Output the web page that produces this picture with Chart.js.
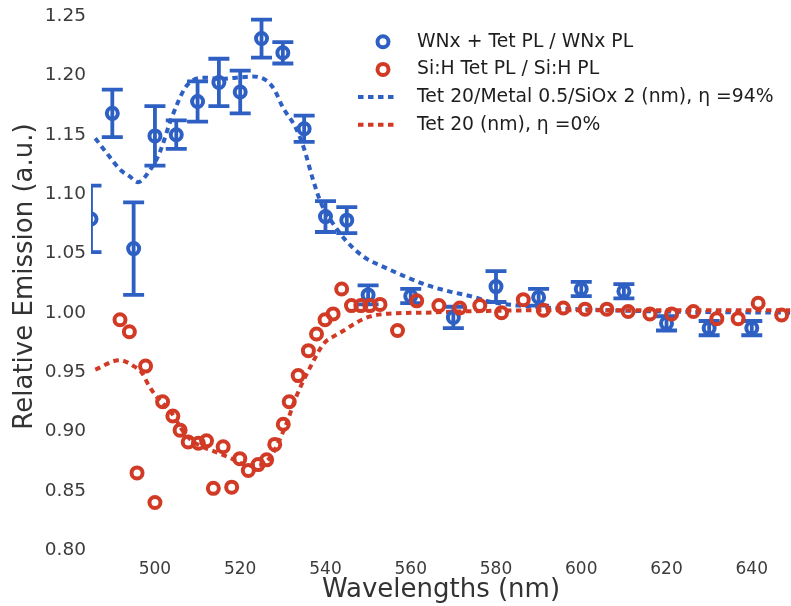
<!DOCTYPE html>
<html>
<head>
<meta charset="utf-8">
<script src="https://cdn.jsdelivr.net/npm/chart.js@4.4.0/dist/chart.umd.min.js"></script>
<style>
  html, body { margin: 0; padding: 0; background: #ffffff; }
  #wrap { width: 791px; height: 606px; }
</style>
</head>
<body>
<div id="wrap"><canvas id="chart" width="791" height="606"></canvas></div>
<script>
// Measured emission ratio, WNx-coated sample (with symmetric error bars)
const wnxWavelengths = [485, 490, 495, 500, 505, 510, 515, 520, 525, 530, 535, 540, 545, 550,
                        560, 570, 580, 590, 600, 610, 620, 630, 640];
const wnxRatio = [1.079, 1.168, 1.054, 1.149, 1.150, 1.178, 1.194, 1.186, 1.231, 1.219, 1.155, 1.081, 1.078, 1.015,
                  1.014, 0.996, 1.022, 1.013, 1.020, 1.018, 0.991, 0.987, 0.987];
const wnxError = [0.028, 0.020, 0.039, 0.025, 0.012, 0.017, 0.020, 0.018, 0.016, 0.009, 0.011, 0.013, 0.011, 0.008,
                  0.006, 0.009, 0.013, 0.007, 0.006, 0.006, 0.006, 0.006, 0.006];

// Measured emission ratio, Si:H sample
const sihWavelengths = [491.8, 494.0, 495.8, 497.8, 500.0, 501.8, 504.2, 505.9, 507.8, 510.2,
                        512.1, 513.7, 516.0, 518.0, 519.9, 521.9, 524.2, 526.2, 528.1, 530.1,
                        531.5, 533.6, 536.0, 537.9, 539.9, 541.8, 543.8, 546.1, 548.3, 550.4,
                        552.8, 556.9, 561.4, 566.6, 571.5, 576.2, 581.3, 586.4, 591.1, 595.8,
                        600.9, 606.0, 611.0, 616.1, 621.2, 626.3, 631.8, 636.8, 641.5, 647.0];
const sihRatio = [0.994, 0.984, 0.865, 0.955, 0.840, 0.925, 0.913, 0.901, 0.891, 0.890,
                  0.892, 0.852, 0.887, 0.853, 0.877, 0.867, 0.872, 0.876, 0.889, 0.906,
                  0.925, 0.947, 0.968, 0.982, 0.994, 0.999, 1.020, 1.006, 1.006, 1.006,
                  1.007, 0.985, 1.010, 1.006, 1.004, 1.006, 1.000, 1.011, 1.002, 1.004,
                  1.003, 1.003, 1.001, 0.999, 0.999, 1.001, 0.995, 0.995, 1.008, 0.998];

// Modelled curve: Tet 20 / Metal 0.5 / SiOx 2 stack
const metalModelWavelengths = [486, 489, 492, 494, 496, 499, 501, 504, 507, 509, 512, 515, 519, 523, 526, 528, 530,
                               533, 535, 537, 539, 542, 545, 549, 554, 559, 564, 569, 574, 579, 589, 599, 619, 649];
const metalModelRatio = [1.147, 1.133, 1.120, 1.115, 1.110, 1.121, 1.134, 1.165, 1.189, 1.196, 1.198, 1.197, 1.198,
                         1.199, 1.196, 1.188, 1.173, 1.156, 1.138, 1.113, 1.092, 1.074, 1.060, 1.047, 1.038, 1.030,
                         1.023, 1.018, 1.014, 1.009, 1.005, 1.003, 1.001, 1.000];

// Modelled curve: bare Tet 20 layer
const bareModelWavelengths = [486, 491.7, 495, 497, 498.5, 500, 504, 507, 510, 514, 518, 521, 524, 527, 529,
                              531, 533, 536.7, 539.6, 541.9, 544.3, 547.4, 550.6, 556, 563, 571.5, 590, 620, 649];
const bareModelRatio = [0.952, 0.960, 0.955, 0.949, 0.939, 0.931, 0.915, 0.898, 0.889, 0.883, 0.877, 0.872, 0.871,
                        0.878, 0.891, 0.908, 0.928, 0.956, 0.974, 0.980, 0.985, 0.992, 0.997, 0.9995, 1.000, 1.001,
                        1.002, 1.002, 1.002];

const xTicks = [500, 520, 540, 560, 580, 600, 620, 640];
const yTicks = [0.80, 0.85, 0.90, 0.95, 1.00, 1.05, 1.10, 1.15, 1.20, 1.25];

const seriesLabels = [
  'WNx + Tet PL / WNx PL',
  'Si:H Tet PL / Si:H PL',
  'Tet 20/Metal 0.5/SiOx 2 (nm), \u03b7 =94%',
  'Tet 20 (nm), \u03b7 =0%'
];

const BLUE = '#2e5fc2';
const RED = '#d13b26';
const FONT = '"DejaVu Sans", "Liberation Sans", sans-serif';

const toPoints = (xs, ys) => xs.map((x, i) => ({ x: x, y: ys[i] }));

// Vertical error bars with caps, drawn just before the markers of a dataset
const errorBarPlugin = {
  id: 'errorBars',
  beforeDatasetDraw(chart, args) {
    const ds = chart.data.datasets[args.index];
    if (!ds.errorValues) return;
    const { ctx, chartArea, scales } = chart;
    const xs = scales.x, ys = scales.y;
    const cap = 10.5;
    ctx.save();
    ctx.beginPath();
    ctx.rect(chartArea.left, chartArea.top, chartArea.width, chartArea.height);
    ctx.clip();
    ctx.strokeStyle = ds.borderColor;
    ctx.lineWidth = 3.8;
    ctx.lineCap = 'butt';
    ds.data.forEach((p, i) => {
      const e = ds.errorValues[i];
      const px = xs.getPixelForValue(p.x);
      const top = ys.getPixelForValue(p.y + e);
      const bot = ys.getPixelForValue(p.y - e);
      ctx.beginPath();
      ctx.moveTo(px, top); ctx.lineTo(px, bot);
      ctx.moveTo(px - cap, top); ctx.lineTo(px + cap, top);
      ctx.moveTo(px - cap, bot); ctx.lineTo(px + cap, bot);
      ctx.stroke();
    });
    ctx.restore();
  }
};

// Legend in the upper right of the plot: markers for data, dashed samples for models
const legendPlugin = {
  id: 'insetLegend',
  afterDraw(chart) {
    const ctx = chart.ctx;
    const rowY0 = 41.7, rowStep = 27.7;
    const markerX = 383, lineX0 = 358, lineX1 = 394, textX = 417;
    const items = [
      { kind: 'marker', color: BLUE },
      { kind: 'marker', color: RED },
      { kind: 'line', color: BLUE },
      { kind: 'line', color: RED }
    ];
    ctx.save();
    items.forEach((it, i) => {
      const y = rowY0 + i * rowStep;
      ctx.strokeStyle = it.color;
      if (it.kind === 'marker') {
        ctx.lineWidth = 4;
        ctx.setLineDash([]);
        ctx.beginPath();
        ctx.arc(markerX, y, 5.5, 0, Math.PI * 2);
        ctx.stroke();
      } else {
        ctx.lineWidth = 4;
        ctx.lineCap = 'butt';
        ctx.setLineDash([5.5, 4.5]);
        ctx.beginPath();
        ctx.moveTo(lineX0, y);
        ctx.lineTo(lineX1, y);
        ctx.stroke();
      }
      ctx.setLineDash([]);
      ctx.fillStyle = '#1e1e1e';
      ctx.font = '18.8px ' + FONT;
      ctx.textAlign = 'left';
      ctx.textBaseline = 'middle';
      ctx.fillText(seriesLabels[i], textX, y);
    });
    ctx.restore();
  }
};

new Chart(document.getElementById('chart'), {
  type: 'scatter',
  data: {
    datasets: [
      {
        type: 'line',
        label: seriesLabels[2],
        data: toPoints(metalModelWavelengths, metalModelRatio),
        borderColor: BLUE,
        borderWidth: 4,
        borderDash: [5.5, 4.5],
        borderCapStyle: 'butt',
        pointRadius: 0,
        fill: false,
        cubicInterpolationMode: 'monotone',
        clip: 0,
        order: 4
      },
      {
        type: 'line',
        label: seriesLabels[3],
        data: toPoints(bareModelWavelengths, bareModelRatio),
        borderColor: RED,
        borderWidth: 4,
        borderDash: [5.5, 4.5],
        borderCapStyle: 'butt',
        pointRadius: 0,
        fill: false,
        cubicInterpolationMode: 'monotone',
        clip: 0,
        order: 3
      },
      {
        label: seriesLabels[0],
        data: toPoints(wnxWavelengths, wnxRatio),
        errorValues: wnxError,
        borderColor: BLUE,
        backgroundColor: 'rgba(0,0,0,0)',
        pointRadius: 5.5,
        pointBorderWidth: 4,
        clip: 0,
        order: 2
      },
      {
        label: seriesLabels[1],
        data: toPoints(sihWavelengths, sihRatio),
        borderColor: RED,
        backgroundColor: 'rgba(0,0,0,0)',
        pointRadius: 5.5,
        pointBorderWidth: 4,
        clip: 0,
        order: 1
      }
    ]
  },
  options: {
    responsive: false,
    animation: false,
    devicePixelRatio: 1,
    layout: { padding: 0, autoPadding: false },
    plugins: {
      legend: { display: false },
      tooltip: { enabled: false }
    },
    scales: {
      x: {
        type: 'linear',
        min: 485,
        max: 649.2,
        border: { display: false },
        grid: { display: false, drawTicks: false },
        afterBuildTicks: (s) => { s.ticks = xTicks.map(v => ({ value: v })); },
        afterFit: (s) => { s.height = 53; s.paddingLeft = 0; s.paddingRight = 0; },
        ticks: {
          padding: 6,
          maxRotation: 0,
          autoSkip: false,
          color: '#3c3c3c',
          font: { family: FONT, size: 17 },
          callback: (v) => String(v)
        },
        title: {
          display: true,
          text: 'Wavelengths (nm)',
          color: '#333333',
          font: { family: FONT, size: 26 },
          padding: { top: 0, bottom: 0 }
        }
      },
      y: {
        type: 'linear',
        min: 0.7975,
        max: 1.2635,
        border: { display: false },
        grid: { display: false, drawTicks: false },
        afterBuildTicks: (s) => { s.ticks = yTicks.map(v => ({ value: v })); },
        afterFit: (s) => { s.width = 91; s.paddingTop = 0; s.paddingBottom = 0; },
        ticks: {
          padding: 5,
          color: '#3c3c3c',
          font: { family: FONT, size: 18.5 },
          callback: (v) => Number(v).toFixed(2)
        },
        title: {
          display: true,
          text: 'Relative Emission (a.u.)',
          color: '#333333',
          font: { family: FONT, size: 26 },
          padding: { top: 10, bottom: 0 }
        }
      }
    }
  },
  plugins: [errorBarPlugin, legendPlugin]
});
</script>
</body>
</html>
